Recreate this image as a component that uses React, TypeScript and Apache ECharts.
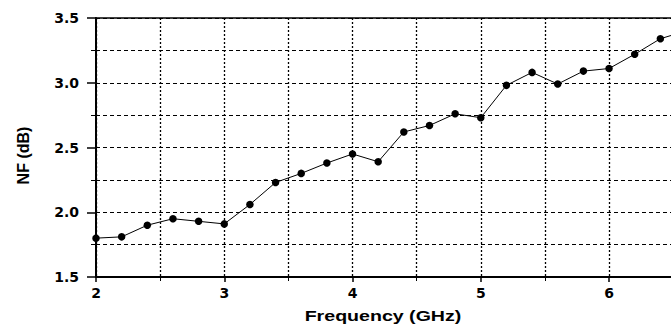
import React, { useEffect, useRef } from "react";
import * as echarts from "echarts";

const frequencies = [2.0, 2.2, 2.4, 2.6, 2.8, 3.0, 3.2, 3.4, 3.6, 3.8, 4.0, 4.2, 4.4, 4.6, 4.8, 5.0, 5.2, 5.4, 5.6, 5.8, 6.0, 6.2, 6.4, 6.6];
const nfValues = [1.80, 1.81, 1.90, 1.95, 1.93, 1.91, 2.06, 2.23, 2.30, 2.38, 2.45, 2.39, 2.62, 2.67, 2.76, 2.73, 2.98, 3.08, 2.99, 3.09, 3.11, 3.22, 3.34, 3.40];
const xTickLabels = ["2", "3", "4", "5", "6"];
const yTickLabels = ["1.5", "2.0", "2.5", "3.0", "3.5"];

export default function App() {
  const ref = useRef<HTMLDivElement>(null);
  useEffect(() => {
    document.body.style.margin = "0";
    if (!ref.current) return;
    const chart = echarts.init(ref.current, null, { renderer: "svg" });
    const labelFont = {
      fontFamily: "DejaVu Sans",
      fontWeight: "bold" as const,
      fontSize: 14,
      color: "#000",
    };
    chart.setOption({
      animation: false,
      backgroundColor: "#fff",
      grid: {
        left: 96,
        top: 18,
        bottom: 50,
        right: 2,
        show: true,
        borderColor: "#000",
        borderWidth: 1.5,
      },
      xAxis: {
        type: "value",
        min: 2,
        max: 6.6,
        interval: 1,
        axisLine: { show: true, lineStyle: { color: "#000", width: 2 } },
        axisTick: { show: true, length: 5, lineStyle: { color: "#000", width: 1.5 } },
        minorTick: { show: true, splitNumber: 2, length: 4, lineStyle: { color: "#000" } },
        axisLabel: {
          ...labelFont,
          margin: 9,
          formatter: (v: number) => (xTickLabels.includes(String(v)) ? String(v) : ""),
        },
        splitLine: { show: true, lineStyle: { color: "#000", type: [2, 2], width: 1.3 } },
        minorSplitLine: { show: true, lineStyle: { color: "#000", type: [2, 2], width: 1.3 } },
      },
      yAxis: {
        type: "value",
        min: 1.5,
        max: 3.5,
        interval: 0.5,
        axisLine: { show: true, lineStyle: { color: "#000", width: 2 } },
        axisTick: { show: true, length: 9, lineStyle: { color: "#000", width: 1.5 } },
        minorTick: { show: true, splitNumber: 2, length: 5, lineStyle: { color: "#000" } },
        axisLabel: {
          ...labelFont,
          margin: 17,
          formatter: (v: number) => {
            const s = v.toFixed(1);
            return yTickLabels.includes(s) ? s : "";
          },
        },
        splitLine: { show: true, lineStyle: { color: "#000", type: [4, 3], width: 1 } },
        minorSplitLine: { show: true, lineStyle: { color: "#000", type: [4, 3], width: 1 } },
        name: "NF (dB)",
        nameLocation: "middle",
        nameGap: 65,
        nameRotate: 90,
        nameTextStyle: {
          fontFamily: "Liberation Sans",
          fontWeight: "bold",
          fontSize: 16,
          color: "#000",
          padding: [0, 0, 0, -16],
        },
      },
      graphic: [
        {
          type: "text",
          x: 383,
          y: 316,
          scaleX: 1.4,
          style: {
            text: "Frequency (GHz)",
            fontFamily: "Liberation Sans",
            fontWeight: "bold",
            fontSize: 14,
            fill: "#000",
            align: "center",
            verticalAlign: "middle",
          },
        },
      ],
      series: [
        {
          type: "line",
          data: frequencies.map((f, i) => [f, nfValues[i]]),
          symbol: "circle",
          symbolSize: 7.5,
          itemStyle: { color: "#000" },
          lineStyle: { color: "#000", width: 1 },
          clip: true,
        },
      ],
    });
    return () => chart.dispose();
  }, []);
  return (
    <div style={{ width: 671, height: 327, overflow: "hidden" }}>
      <div ref={ref} style={{ width: 689, height: 327 }} />
    </div>
  );
}
